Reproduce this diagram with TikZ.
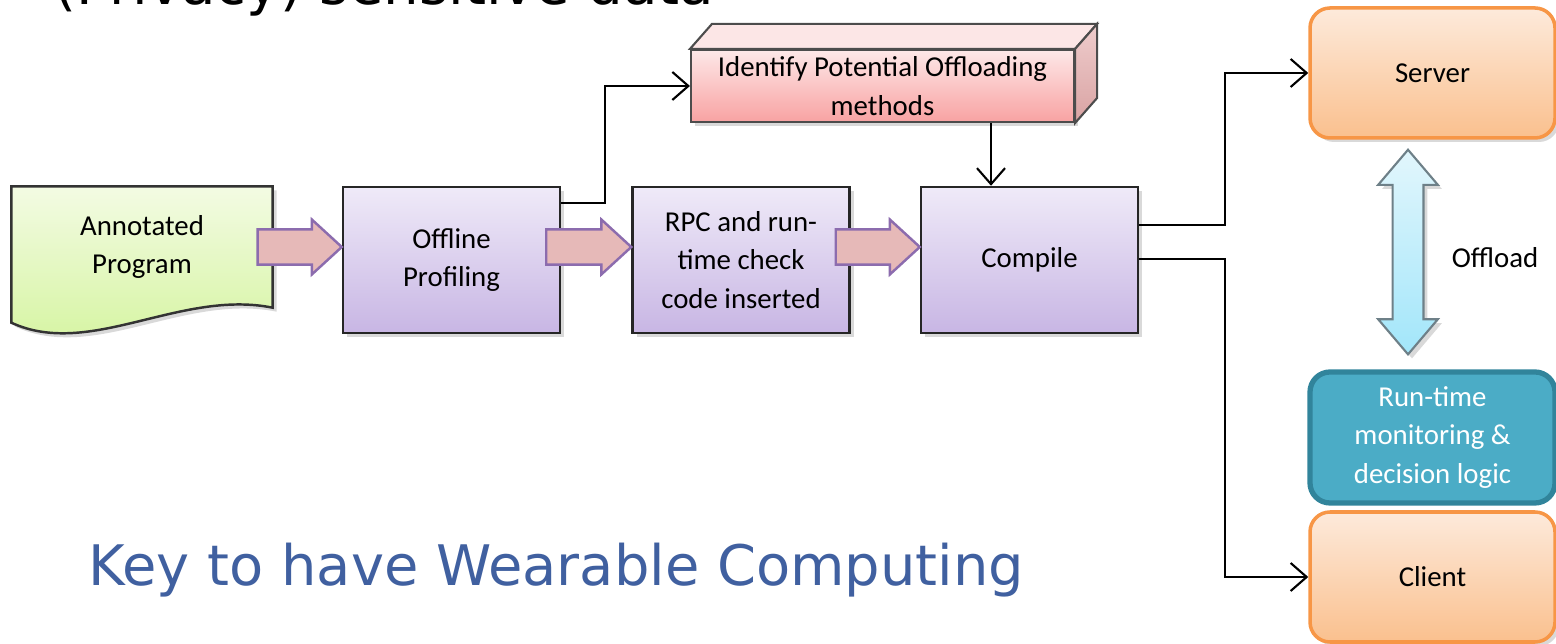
\documentclass[tikz,border=0pt]{standalone}
\usepackage{fontspec}
\setmainfont{Carlito}
\newfontfamily\headfont{DejaVu Sans}
\usetikzlibrary{positioning,calc,arrows.meta,shadows,backgrounds}

\definecolor{docTop}{HTML}{F3FBE3}
\definecolor{docBot}{HTML}{D3F49C}
\definecolor{procTop}{HTML}{EFEAF8}
\definecolor{procBot}{HTML}{C8B6E4}
\definecolor{idTop}{HTML}{FDE8E8}
\definecolor{idBot}{HTML}{F8A2A2}
\definecolor{idSide}{HTML}{D9A3A3}
\definecolor{idRoof}{HTML}{FCE6E6}
\definecolor{fatFill}{HTML}{E6B9B8}
\definecolor{fatEdge}{HTML}{8C6CAE}
\definecolor{orTop}{HTML}{FDEADB}
\definecolor{orBot}{HTML}{FAC08E}
\definecolor{orEdge}{HTML}{F79646}
\definecolor{runFill}{HTML}{4BACC6}
\definecolor{runEdge}{HTML}{31849B}
\definecolor{dblTop}{HTML}{E2F6FC}
\definecolor{dblBot}{HTML}{A2E6FA}
\definecolor{dblEdge}{HTML}{6E8088}
\definecolor{keyBlue}{HTML}{4060A0}

\tikzset{
  boxfont/.style={font=\fontsize{8.2}{11}\selectfont, align=center},
  softshadow/.style={drop shadow={opacity=0.3, shadow xshift=0.04cm, shadow yshift=-0.04cm}},
  procbox/.style={boxfont, draw=black!85, line width=0.7pt, top color=procTop, bottom color=procBot,
                  minimum width=2.17cm, minimum height=1.46cm, inner sep=0pt, softshadow},
  endbox/.style={boxfont, draw=orEdge, line width=1pt, top color=orTop, bottom color=orBot,
                 rounded corners=0.2cm, minimum width=2.45cm, minimum height=1.3cm, inner sep=0pt, softshadow},
  runbox/.style={boxfont, text=white, draw=runEdge, line width=1.5pt, fill=runFill,
                 rounded corners=0.2cm, minimum width=2.45cm, minimum height=1.31cm, inner sep=0pt},
  conn/.style={-{Straight Barb[length=1.6mm,width=2.8mm]}, line width=0.6pt},
  fatarr/.style={draw=fatEdge, fill=fatFill, line width=0.7pt},
}

% wide arrow from box #1 to box #2
\newcommand{\fatarrow}[2]{%
  \draw[fatarr] let \p1=($(#1.east)+(-0.15,0)$), \p2=($(#2.west)+(0,0.13)$) in
    (\x1,\y2+5pt) -- (\x2-8.5pt,\y2+5pt) -- (\x2-8.5pt,\y2+7.8pt) -- (\x2,\y2)
    -- (\x2-8.5pt,\y2-7.8pt) -- (\x2-8.5pt,\y2-5pt) -- (\x1,\y2-5pt) -- cycle;}

\begin{document}
\begin{tikzpicture}
  \useasboundingbox (0,0) rectangle (15.56,6.44);

  % slide text
  \node[anchor=base west, font=\headfont\fontsize{16}{19}\selectfont] (privacy) at (0.42,6.39) {(Privacy) sensitive data};
  \node[anchor=base west, text=keyBlue, font=\headfont\fontsize{15.9}{19}\selectfont] (key) at (0.76,0.58) {Key to have Wearable Computing};

  % tool chain
  \node[boxfont, minimum width=2.6cm, minimum height=1.2cm] (prog) at (1.42,3.97) {Annotated\\Program}; % input
  \begin{scope}[on background layer]
    \draw[black!80, line width=0.7pt, top color=docTop, bottom color=docBot, softshadow]
      (prog.north west) -- (prog.north east) -- (prog.south east)
      .. controls (1.8,3.55) and (0.9,2.85) .. ($(prog.south west)+(0,-0.15)$) -- cycle;
  \end{scope}
  \node[procbox] (prof) at (4.515,3.84) {Offline\\Profiling};
  \node[procbox] (rpc) at (7.41,3.84) {RPC and run-\\time check\\code inserted};
  \node[procbox] (comp) at (10.295,3.84) {Compile};

  \node[boxfont, draw=black!70, line width=0.6pt, top color=idTop, bottom color=idBot,
        minimum width=3.83cm, minimum height=0.72cm, inner sep=0pt, softshadow] (ident) at (8.825,5.58)
        {Identify Potential Offloading\\methods};
  \draw[black!70, line width=0.6pt, fill=idRoof] (ident.north west) -- ++(0.22,0.25)
    -- ($(ident.north east)+(0.22,0.25)$) -- (ident.north east) -- cycle; % top face
  \draw[black!70, line width=0.6pt, top color=idTop!60!idSide, bottom color=idSide] (ident.north east) -- ++(0.22,0.25)
    -- ($(ident.south east)+(0.22,0.25)$) -- (ident.south east) -- cycle; % side face

  \fatarrow{prog}{prof}
  \fatarrow{prof}{rpc}
  \fatarrow{rpc}{comp}

  % target side
  \node[endbox] (server) at (14.325,5.71) {Server};
  \node[runbox] (runtime) at (14.325,2.065) {Run-time\\monitoring \&\\decision logic};
  \node[endbox] (client) at (14.325,0.67) {Client};
  \node[boxfont] (offload) at (14.95,3.86) {Offload};

  \coordinate (up) at ($(server.south)+(-0.245,-0.10)$);
  \coordinate (dn) at ($(runtime.north)+(-0.245,0.15)$);
  \draw[draw=dblEdge, line width=0.6pt, top color=dblTop, bottom color=dblBot, softshadow]
    let \p1=(up), \p2=(dn) in
    (\x1,\y1) -- (\x1+8.5pt,\y1-10pt) -- (\x1+4.4pt,\y1-10pt) -- (\x1+4.4pt,\y2+10pt)
    -- (\x1+8.5pt,\y2+10pt) -- (\x2,\y2) -- (\x1-8.5pt,\y2+10pt) -- (\x1-4.4pt,\y2+10pt)
    -- (\x1-4.4pt,\y1-10pt) -- (\x1-8.5pt,\y1-10pt) -- cycle; % offload

  % connectors
  \draw[conn] ([yshift=0.57cm]prof.east) -- ++(0.44,0) |- (ident.west);
  \coordinate (drop) at ([xshift=1.085cm]ident.south);
  \draw[conn] (drop) -- (drop |- comp.north);
  \draw[conn] ([yshift=0.35cm]comp.east) -- ++(0.86,0) |- (server.west);
  \draw[conn] ([yshift=0.01cm]comp.east) -- ++(0.86,0) |- (client.west);
\end{tikzpicture}
\end{document}
